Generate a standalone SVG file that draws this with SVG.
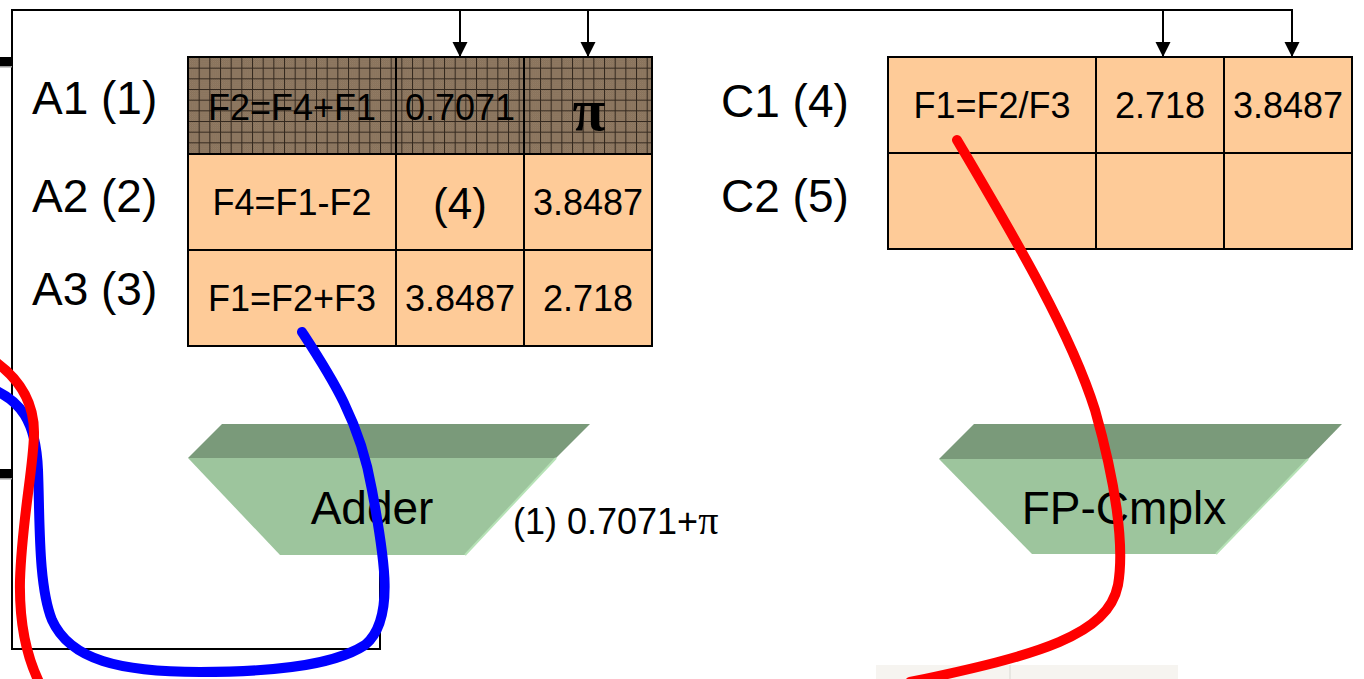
<svg xmlns="http://www.w3.org/2000/svg" width="1364" height="679" viewBox="0 0 1364 679">
  <defs>
    <!-- fine dither used inside the cross-hatched cells -->
    <pattern id="dither" patternUnits="userSpaceOnUse" width="2" height="2">
      <rect width="2" height="2" fill="#7f6a55"/>
      <rect width="1" height="1" fill="#988169"/>
      <rect x="1" y="1" width="1" height="1" fill="#988169"/>
    </pattern>
    <!-- grid hatch for the highlighted row -->
    <pattern id="hatch" patternUnits="userSpaceOnUse" x="188" y="57" width="10.667" height="10.667">
      <rect width="10.667" height="10.667" fill="url(#dither)"/>
      <path d="M0,0.5 H10.667 M0.5,0 V10.667" stroke="#33281e" stroke-width="1" fill="none"/>
    </pattern>
    <marker id="arrow" markerUnits="userSpaceOnUse" markerWidth="16" markerHeight="16" refX="15" refY="8" orient="auto">
      <path d="M0,0.5 L15,8 L0,15.5 Z" fill="#000"/>
    </marker>
    <style>
      .cell { stroke: #000; stroke-width: 2; fill: #fecb98; }
      .hot { stroke: #000; stroke-width: 2; fill: url(#hatch); }
      .txt { font-family: "Liberation Sans", Arial, sans-serif; fill: #000; }
      .c36 { font-size: 36px; text-anchor: middle; }
      .lbl { font-size: 46px; }
      .wire { fill: none; stroke: #000; stroke-width: 2; }
      .top-face { fill: #7a9a7a; }
      .front-face { fill: #9dc59d; }
      .edge { fill: none; stroke: #b6e2b6; stroke-width: 2; }
      .unit { font-family: "Liberation Sans", Arial, sans-serif; font-size: 46px; text-anchor: middle; fill: #000; }
      .route { fill: none; stroke-width: 10; stroke-linecap: round; }
    </style>
  </defs>

  <rect width="1364" height="679" fill="#fff"/>

  <!-- faint strip along the bottom edge -->
  <rect x="876" y="665" width="302" height="14" fill="#f6f4f0"/>
  <line x1="1010" y1="665" x2="1010" y2="679" stroke="#e2e2dc" stroke-width="1.5"/>

  <!-- register file A -->
  <g id="regA">
    <rect class="hot" x="188" y="57" width="208" height="97"/>
    <rect class="hot" x="396" y="57" width="128" height="97"/>
    <rect class="hot" x="524" y="57" width="128" height="97"/>
    <rect class="cell" x="188" y="154" width="208" height="96"/>
    <rect class="cell" x="396" y="154" width="128" height="96"/>
    <rect class="cell" x="524" y="154" width="128" height="96"/>
    <rect class="cell" x="188" y="250" width="208" height="96"/>
    <rect class="cell" x="396" y="250" width="128" height="96"/>
    <rect class="cell" x="524" y="250" width="128" height="96"/>
    <text class="txt c36" x="292" y="120">F2=F4+F1</text>
    <text class="txt c36" x="460" y="120">0.7071</text>
    <text x="589" y="130" font-family="Liberation Serif, Times New Roman, serif" font-size="60" font-weight="bold" text-anchor="middle">π</text>
    <text class="txt c36" x="292" y="215">F4=F1-F2</text>
    <text class="txt" x="460" y="219" font-size="44" text-anchor="middle">(4)</text>
    <text class="txt c36" x="588" y="215">3.8487</text>
    <text class="txt c36" x="292" y="311">F1=F2+F3</text>
    <text class="txt c36" x="460" y="311">3.8487</text>
    <text class="txt c36" x="588" y="311">2.718</text>
  </g>

  <g id="labelsA">
    <text class="txt lbl" x="32" y="114">A1 (1)</text>
    <text class="txt lbl" x="32" y="212">A2 (2)</text>
    <text class="txt lbl" x="32" y="305">A3 (3)</text>
  </g>

  <!-- register file C -->
  <g id="regC">
    <rect class="cell" x="888" y="57" width="208" height="96"/>
    <rect class="cell" x="1096" y="57" width="128" height="96"/>
    <rect class="cell" x="1224" y="57" width="128" height="96"/>
    <rect class="cell" x="888" y="153" width="208" height="96"/>
    <rect class="cell" x="1096" y="153" width="128" height="96"/>
    <rect class="cell" x="1224" y="153" width="128" height="96"/>
    <text class="txt c36" x="992" y="118">F1=F2/F3</text>
    <text class="txt c36" x="1160" y="118">2.718</text>
    <text class="txt c36" x="1288" y="118">3.8487</text>
  </g>

  <g id="labelsC">
    <text class="txt lbl" x="721" y="117">C1 (4)</text>
    <text class="txt lbl" x="721" y="212">C2 (5)</text>
  </g>

  <!-- functional units -->
  <g id="adder">
    <polygon class="top-face" points="222,424 590,424 556,458 188,458"/>
    <polygon class="front-face" points="188,458 556,458 465,555 280,555"/>
    <line class="edge" x1="556" y1="458" x2="465" y2="555"/>
    <text class="unit" x="372" y="524">Adder</text>
  </g>

  <g id="fpcmplx">
    <polygon class="top-face" points="974,424 1342,424 1308,459 939,459"/>
    <polygon class="front-face" points="939,459 1308,459 1216,554 1032,554"/>
    <line class="edge" x1="1308" y1="459" x2="1216" y2="554"/>
    <text class="unit" x="1124" y="524">FP-Cmplx</text>
  </g>

  <g id="result">
    <text class="txt" x="513" y="534" font-size="36">(1) 0.7071+<tspan font-family="Liberation Serif, Times New Roman, serif" font-size="40">π</tspan></text>
  </g>

  <!-- result bus looping back to the register operands -->
  <g id="connectors">
    <path class="wire" d="M380,555 V649 H12 V10 H1292 V57" marker-end="url(#arrow)"/>
    <path class="wire" d="M460,10 V57" marker-end="url(#arrow)"/>
    <path class="wire" d="M588,10 V57" marker-end="url(#arrow)"/>
    <path class="wire" d="M1163,10 V57" marker-end="url(#arrow)"/>
    <rect x="0" y="57" width="12" height="9" fill="#000"/>
    <rect x="0" y="66" width="12" height="1.5" fill="#9a9a9a"/>
    <rect x="0" y="469" width="12" height="9" fill="#000"/>
    <rect x="0" y="478" width="12" height="1.5" fill="#9a9a9a"/>

    <!-- traced instruction paths -->
    <path class="route" stroke="#0000ff" d="M302,332 C330,375 360,420 372,490 C385,560 395,620 365,645 C330,668 260,672 200,672 C120,672 70,660 52,620 C38,585 40,520 38,470 C36,420 20,400 -10,388"/>
    <path class="route" stroke="#ff0000" d="M-15,355 C10,370 35,395 34,435 C33,470 22,520 20,580 C19,625 28,660 40,684"/>
    <path class="route" stroke="#ff0000" d="M957,140 C1010,230 1070,330 1095,410 C1115,480 1125,545 1118,585 C1108,635 1040,655 910,682"/>
  </g>
</svg>
